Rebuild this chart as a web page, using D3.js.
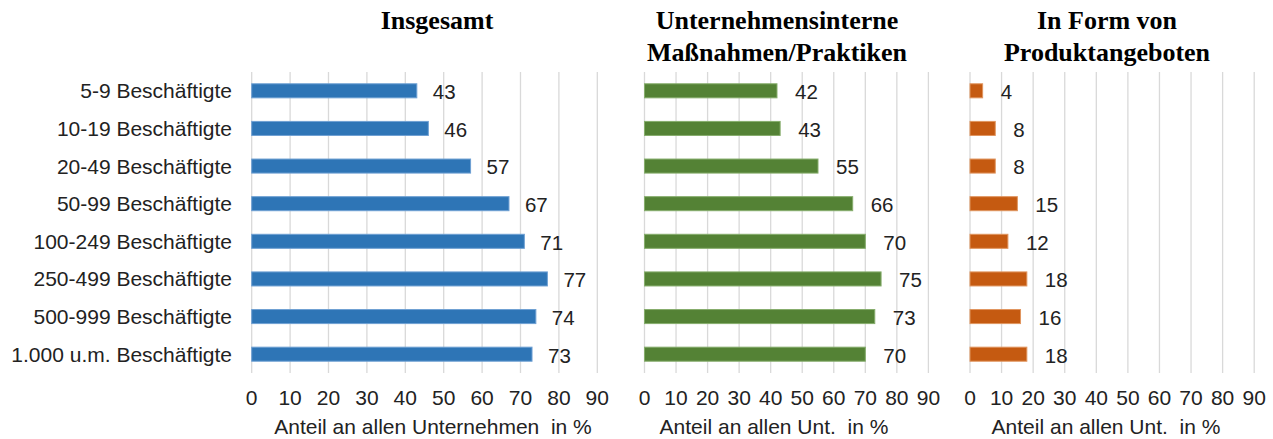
<!DOCTYPE html>
<html><head><meta charset="utf-8">
<script src="https://cdn.jsdelivr.net/npm/d3@7/dist/d3.min.js"></script>
<style>body{margin:0;background:#fff}svg{display:block}</style>
</head><body>
<script>
const categories = ["5-9 Beschäftigte","10-19 Beschäftigte","20-49 Beschäftigte","50-99 Beschäftigte","100-249 Beschäftigte","250-499 Beschäftigte","500-999 Beschäftigte","1.000 u.m. Beschäftigte"];
const insgesamt = [43,46,57,67,71,77,74,73];
const intern = [42,43,55,66,70,75,73,70];
const produkt = [4,8,8,15,12,18,16,18];
const ticks = [0,10,20,30,40,50,60,70,80,90];
const titles = [["Insgesamt"],["Unternehmensinterne","Maßnahmen/Praktiken"],["In Form von","Produktangeboten"]];
const axisTitles = ["Anteil an allen Unternehmen  in %","Anteil an allen Unt.  in %","Anteil an allen Unt.  in %"];

const W=1273,H=439;
const svg=d3.select("body").append("svg").attr("width",W).attr("height",H);
const plotTop=72,plotBottom=373;
const y=d3.scaleBand().domain(categories).range([plotTop,plotBottom]).paddingInner(0.6).paddingOuter(0.3);

const panels=[
 {vals:insgesamt,x0:251.7,x1:597.3,color:"#2E75B6",edge:"#6FA0D3",off:16,tcx:437,acx:433},
 {vals:intern,x0:644.5,x1:928.4,color:"#548235",edge:"#86AD6C",off:18,tcx:777,acx:774},
 {vals:produkt,x0:970,x1:1254.2,color:"#C55A11",edge:"#E0955F",off:18,tcx:1107,acx:1106}
];
const font="Arial, 'Liberation Sans', sans-serif";

svg.append("g").selectAll("text").data(categories).join("text")
 .attr("x",232).attr("y",d=>y(d)+y.bandwidth()/2).attr("dy","0.36em")
 .attr("text-anchor","end").attr("font-family",font).attr("font-size",21).attr("fill","#222")
 .text(d=>d);

panels.forEach((p,i)=>{
  const x=d3.scaleLinear().domain([0,90]).range([p.x0,p.x1]);
  const g=svg.append("g");
  g.selectAll("line.grid").data(ticks).join("line").attr("class","grid")
   .attr("x1",d=>x(d)).attr("x2",d=>x(d)).attr("y1",plotTop).attr("y2",plotBottom)
   .attr("stroke","#d9d9d9").attr("stroke-width",1.3);
  g.selectAll("text.tick").data(ticks).join("text").attr("class","tick")
   .attr("x",d=>x(d)).attr("y",405).attr("text-anchor","middle")
   .attr("font-family",font).attr("font-size",21).attr("fill","#222").text(d=>d);
  g.selectAll("rect.bar").data(p.vals).join("rect").attr("class","bar")
   .attr("x",x(0)).attr("y",(d,j)=>y(categories[j])+0.5)
   .attr("width",d=>x(d)-x(0)).attr("height",y.bandwidth()-1)
   .attr("fill",p.color).attr("stroke",p.edge).attr("stroke-width",1);
  g.selectAll("text.val").data(p.vals).join("text").attr("class","val")
   .attr("x",d=>x(d)+p.off).attr("y",(d,j)=>y(categories[j])+y.bandwidth()/2+1).attr("dy","0.36em")
   .attr("font-family",font).attr("font-size",20.5).attr("fill","#222").text(d=>d);
  g.append("text").attr("x",p.acx).attr("y",434).attr("text-anchor","middle")
   .attr("font-family",font).attr("font-size",21).attr("fill","#222")
   .style("white-space","pre").text(axisTitles[i]);
  titles[i].forEach((t,k)=>{
    g.append("text").attr("x",p.tcx).attr("y",29+k*32).attr("text-anchor","middle")
     .attr("font-family","'Times New Roman','Liberation Serif',serif").attr("font-weight","bold")
     .attr("font-size",26).attr("fill","#000").text(t);
  });
});
</script>
</body></html>
